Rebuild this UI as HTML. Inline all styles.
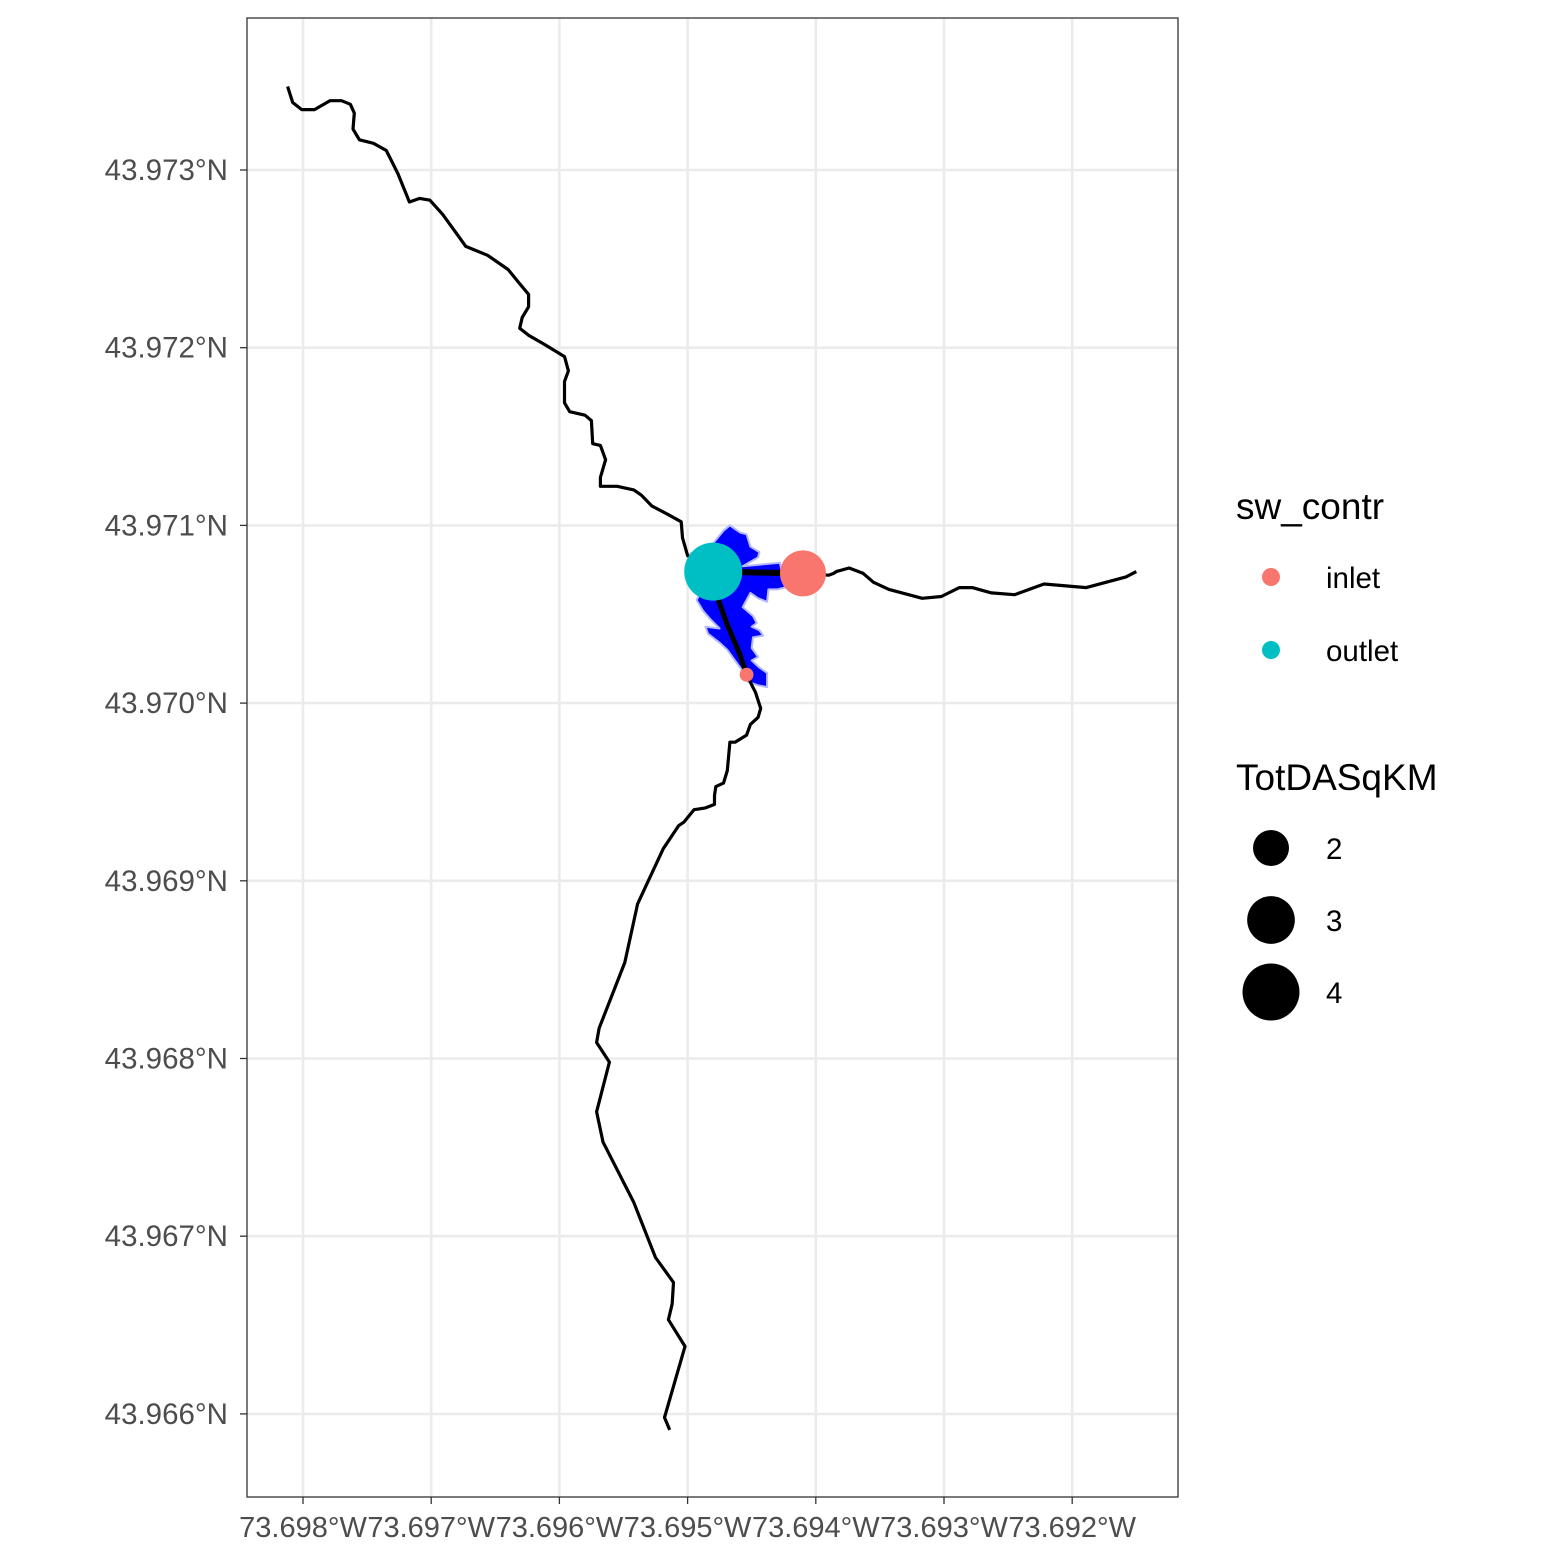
<!DOCTYPE html>
<html><head><meta charset="utf-8"><style>
html,body{margin:0;padding:0;background:#fff;}
svg{display:block;font-family:"Liberation Sans",Arial,sans-serif;}
</style></head><body>
<svg id="chart" width="1562" height="1562" viewBox="0 0 1562 1562" xmlns="http://www.w3.org/2000/svg">
<rect x="0" y="0" width="1562" height="1562" fill="#fff"/>
<g id="grid"></g>
<g id="marks"></g>
<rect x="247" y="18" width="931" height="1479" fill="none" stroke="#333" stroke-width="1.3"/>
<g id="axes"></g>
<g>
<text x="1236" y="519" font-size="37" fill="#000">sw_contr</text>
<circle cx="1271" cy="577" r="9" fill="#F8766D"/>
<text x="1326" y="588" font-size="29.5" fill="#000">inlet</text>
<circle cx="1271" cy="650" r="9" fill="#00BFC4"/>
<text x="1326" y="661" font-size="29.5" fill="#000">outlet</text>
</g>
<g id="sizeLegend">
<text x="1236" y="790" font-size="37" fill="#000">TotDASqKM</text>
</g>
</svg>
<script>
const xTicks=[-73.698,-73.697,-73.696,-73.695,-73.694,-73.693,-73.692];
const xTickLabels=["73.698°W","73.697°W","73.696°W","73.695°W","73.694°W","73.693°W","73.692°W"];
const yTicks=[43.973,43.972,43.971,43.970,43.969,43.968,43.967,43.966];
const yTickLabels=["43.973°N","43.972°N","43.971°N","43.970°N","43.969°N","43.968°N","43.967°N","43.966°N"];
const northLon=[-73.69812,-73.69808,-73.69801,-73.69791,-73.69779,-73.69770,-73.69763,-73.69760,-73.69761,-73.69756,-73.69745,-73.69735,-73.69726,-73.69717,-73.69709,-73.69701,-73.69691,-73.69679,-73.69673,-73.69656,-73.69640,-73.69631,-73.69624,-73.69624,-73.69629,-73.69631,-73.69624,-73.69612,-73.69596,-73.69593,-73.69596,-73.69596,-73.69592,-73.69580,-73.69575,-73.69574,-73.69568,-73.69564,-73.69568,-73.69568,-73.69555,-73.69542,-73.69536,-73.69528,-73.69515,-73.69505,-73.69504,-73.69500,-73.69480];
const northLat=[43.97347,43.97338,43.97334,43.97334,43.97339,43.97339,43.97337,43.97332,43.97323,43.97317,43.97315,43.97311,43.97298,43.97282,43.97284,43.97283,43.97275,43.97263,43.97257,43.97252,43.97244,43.97236,43.97230,43.97223,43.97217,43.97211,43.97207,43.97202,43.97195,43.97187,43.97181,43.97169,43.97164,43.97162,43.97159,43.97146,43.97145,43.97137,43.97127,43.97122,43.97122,43.97120,43.97117,43.97111,43.97106,43.97102,43.97093,43.97083,43.97074];
const eastLon=[-73.69480,-73.69410,-73.69390,-73.69386,-73.69384,-73.69374,-73.69363,-73.69355,-73.69343,-73.69317,-73.69302,-73.69288,-73.69278,-73.69263,-73.69245,-73.69222,-73.69189,-73.69158,-73.69150];
const eastLat=[43.97074,43.97073,43.97072,43.97073,43.97074,43.97076,43.97073,43.97068,43.97064,43.97059,43.97060,43.97065,43.97065,43.97062,43.97061,43.97067,43.97065,43.97071,43.97074];
const southLon=[-73.69480,-73.69476,-73.69469,-73.69459,-73.69454,-73.69447,-73.69443,-73.69445,-73.69451,-73.69454,-73.69463,-73.69467,-73.69468,-73.69469,-73.69472,-73.69478,-73.69479,-73.69479,-73.69486,-73.69495,-73.69503,-73.69507,-73.69519,-73.69539,-73.69549,-73.69569,-73.69571,-73.69561,-73.69571,-73.69566,-73.69542,-73.69525,-73.69511,-73.69512,-73.69515,-73.69502,-73.69518,-73.69514];
const southLat=[43.97074,43.97058,43.97044,43.97027,43.97016,43.97006,43.96997,43.96992,43.96988,43.96982,43.96978,43.96978,43.96970,43.96962,43.96955,43.96953,43.96948,43.96943,43.96941,43.96940,43.96933,43.96931,43.96918,43.96887,43.96854,43.96817,43.96809,43.96798,43.96770,43.96753,43.96719,43.96688,43.96674,43.96662,43.96653,43.96638,43.96598,43.96591];
const lakeLon=[-73.69467,-73.69459,-73.69454,-73.69451,-73.69444,-73.69445,-73.69457,-73.69428,-73.69424,-73.69430,-73.69437,-73.69438,-73.69445,-73.69451,-73.69457,-73.69449,-73.69446,-73.69450,-73.69444,-73.69441,-73.69449,-73.69450,-73.69445,-73.69450,-73.69444,-73.69438,-73.69438,-73.69445,-73.69453,-73.69458,-73.69463,-73.69469,-73.69475,-73.69484,-73.69486,-73.69475,-73.69482,-73.69488,-73.69493,-73.69490,-73.69500,-73.69498,-73.69480,-73.69472];
const lakeLat=[43.97100,43.97096,43.97095,43.97088,43.97085,43.97082,43.97077,43.97079,43.97065,43.97064,43.97064,43.97057,43.97059,43.97062,43.97054,43.97049,43.97045,43.97043,43.97041,43.97038,43.97037,43.97031,43.97026,43.97024,43.97020,43.97017,43.97009,43.97010,43.97012,43.97019,43.97024,43.97030,43.97034,43.97039,43.97043,43.97042,43.97047,43.97052,43.97058,43.97062,43.97071,43.97084,43.97090,43.97097];
const pointLon=[-73.69454,-73.69410,-73.69480];
const pointLat=[43.97016,43.97073,43.97074];
const pointType=["inlet","inlet","outlet"];
const pointArea=[0.87,2.84,4.12];
const sizeBreaks=[2,3,4];

const NS="http://www.w3.org/2000/svg";
const X0=303,XS=128200,Y0=170,YS=177700;
function sx(lon){return X0+(lon+73.698)*XS;}
function sy(lat){return Y0+(43.973-lat)*YS;}
function rs(v){return Math.sqrt(Math.max(1,-164+244*v));}
function mk(tag,attrs,parent){const e=document.createElementNS(NS,tag);for(const k in attrs)e.setAttribute(k,attrs[k]);parent.appendChild(e);return e;}
const grid=document.getElementById('grid'),axes=document.getElementById('axes'),marks=document.getElementById('marks');
xTicks.forEach((v,i)=>{
  const x=sx(v);
  const g=mk('line',{x1:x,x2:x,y1:18,y2:1497,stroke:'#ebebeb','stroke-width':2.6},grid);
  
  
  const t=mk('line',{x1:x,x2:x,y1:1497,y2:1504,stroke:'#333','stroke-width':1.3},axes);
  
  
  const l=mk('text',{x:x,y:1537,'font-size':29,fill:'#4d4d4d','text-anchor':'middle'},axes);
  l.textContent=xTickLabels[i];
  
  
});
yTicks.forEach((v,i)=>{
  const y=sy(v);
  const g=mk('line',{x1:247,x2:1178,y1:y,y2:y,stroke:'#ebebeb','stroke-width':2.6},grid);
  
  
  const t=mk('line',{x1:240,x2:247,y1:y,y2:y,stroke:'#333','stroke-width':1.3},axes);
  
  
  const l=mk('text',{x:228,y:y+10,'font-size':29.5,fill:'#4d4d4d','text-anchor':'end'},axes);
  l.textContent=yTickLabels[i];
  
  
});
const lakePts=lakeLon.map((v,i)=>sx(v).toFixed(1)+','+sy(lakeLat[i]).toFixed(1)).join(' ');
const lake=mk('polygon',{points:lakePts,fill:'#0000ff',stroke:'#b4b9ff','stroke-width':2,'stroke-linejoin':'round'},marks);


function line(lons,lats,name,w){
  const p=lons.map((v,i)=>sx(v).toFixed(1)+','+sy(lats[i]).toFixed(1)).join(' ');
  const e=mk('polyline',{points:p,fill:'none',stroke:'#000','stroke-width':w,'stroke-linejoin':'round','stroke-linecap':'butt'},marks);
  
  
}
line(northLon,northLat,'flowline-north',3.2);
line(eastLon,eastLat,'flowline-east',3.2);
line(southLon,southLat,'flowline-south',3.2);
line(eastLon.slice(0,2),eastLat.slice(0,2),'flowline-lake-east',6);
line(southLon.slice(0,5),southLat.slice(0,5),'flowline-lake-south',5);
pointLon.forEach((v,i)=>{
  const c=mk('circle',{cx:sx(v),cy:sy(pointLat[i]),r:rs(pointArea[i]),fill:pointType[i]==='inlet'?'#F8766D':'#00BFC4'},marks);
  
  
});
const sl=document.getElementById('sizeLegend');
sizeBreaks.forEach((v,i)=>{
  const cy=848+72*i;
  const c=mk('circle',{cx:1271,cy:cy,r:rs(v),fill:'#000'},sl);
  
  
  const t=mk('text',{x:1326,y:cy+11,'font-size':29.5,fill:'#000'},sl);
  t.textContent=String(v);
  
  
});
</script>
</body></html>
